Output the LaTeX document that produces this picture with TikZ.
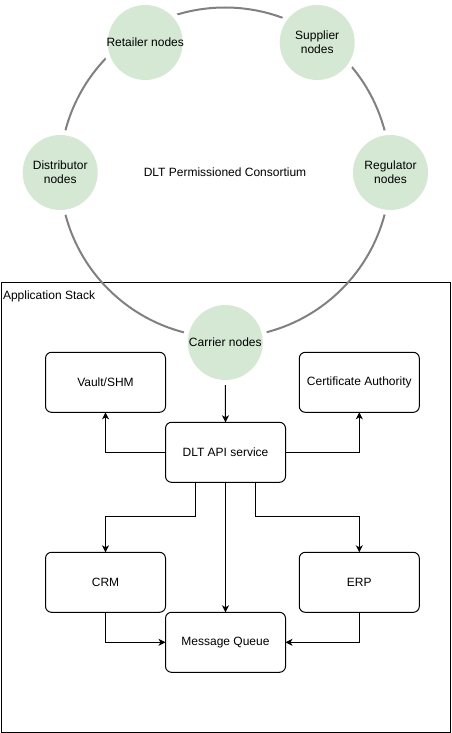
\documentclass[tikz,border=0pt]{standalone}
\usepackage{fontspec}
\setmainfont{Liberation Sans}
\usetikzlibrary{arrows.meta,calc}
\definecolor{nodegreen}{HTML}{D5E8D4}
\definecolor{ringgray}{HTML}{808080}
\begin{document}
\begin{tikzpicture}[x=1pt,y=-1pt,
  font=\fontsize{12}{14}\selectfont,
  every node/.style={inner sep=0pt, outer sep=0pt},
  stackbox/.style={draw=black, line width=1pt, anchor=north west},
  ringnode/.style={circle, draw=ringgray, line width=2pt, minimum size=330pt},
  member/.style={circle, fill=nodegreen, minimum size=75pt,
    preaction={draw=white, line width=10pt}},
  membertext/.style={align=center},
  service/.style={draw=black, line width=1pt, rounded corners=6pt,
    minimum width=120pt, minimum height=60pt, align=center},
  arr/.style={draw=black, line width=1pt,
    -{Stealth[length=7pt,width=7pt,inset=2pt]}}
]
\useasboundingbox (0,0) rectangle (451,733);

% application stack frame
\node[stackbox, minimum width=449pt, minimum height=450pt] (stack) at (1,282.5) {};
\node[anchor=west] (stacklabel) at (3,296) {Application Stack};

% consortium ring
\node[ringnode] (consortium) at (225,172.5) {DLT Permissioned Consortium};

% member nodes
\node[member] (retailer) at (145.2,42.5) {};
\node[membertext] (retailertext) at (retailer) {Retailer nodes};
\node[member] (supplier) at (317.2,42.5) {};
\node[membertext] (suppliertext) at (supplier) {Supplier\\nodes};
\node[member] (distributor) at (60.2,172.5) {};
\node[membertext] (distributortext) at (distributor) {Distributor\\nodes};
\node[member] (regulator) at (390.5,172.5) {};
\node[membertext] (regulatortext) at (regulator) {Regulator\\nodes};
\node[member] (carrier) at (225.3,342.5) {};
\node[membertext] (carriertext) at (carrier) {Carrier nodes};

% services
\node[service] (vault) at (105.5,382.3) {Vault/SHM};
\node[service] (ca) at (359.3,382.3) {Certificate Authority};
\node[service] (api) at (225.5,452.3) {DLT API service};
\node[service] (crm) at (105.5,582.3) {CRM};
\node[service] (erp) at (359.3,582.3) {ERP};
\node[service] (mq) at (225.5,642.3) {Message Queue};

\coordinate (split) at (225.5,516.7);

% connectors
\draw[arr, shorten <=5pt] (carrier.south) -- (api.north);
\draw[arr] (api.west) -| (vault.south);
\draw[arr] (api.east) -| (ca.south);
\draw[arr] ([xshift=-30pt]api.south) -- ([xshift=-30pt]api.south |- split) -| (crm.north);
\draw[arr] ([xshift=30pt]api.south) -- ([xshift=30pt]api.south |- split) -| (erp.north);
\draw[arr] (api.south) -- (mq.north);
\draw[arr] (crm.south) |- (mq.west);
\draw[arr] (erp.south) |- (mq.east);
\end{tikzpicture}
\end{document}
